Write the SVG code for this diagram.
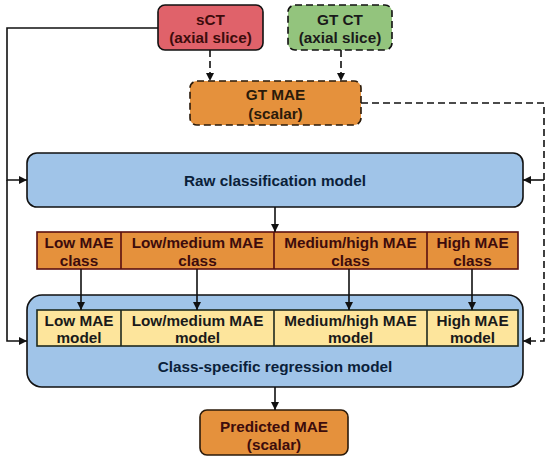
<svg xmlns="http://www.w3.org/2000/svg" width="550" height="462" viewBox="0 0 550 462">
<defs>
<marker id="ah" viewBox="0 0 10 10" refX="10" refY="5" markerWidth="8" markerHeight="9" markerUnits="userSpaceOnUse" orient="auto"><path d="M0,0 L10,5 L0,10 Z" fill="#111"/></marker>
</defs>
<style>
text{font-family:"Liberation Sans",Arial,sans-serif;font-weight:bold;font-size:15.3px;text-anchor:middle}
.ln{fill:none;stroke:#111;stroke-width:1.6}
.dl{fill:none;stroke:#111;stroke-width:1.6;stroke-dasharray:7,4}
.or{fill:#e5913c;stroke:#2a1a0a;stroke-width:1.6}
.bl{fill:#a0c4e8;stroke:#111;stroke-width:1.6}
.tr{fill:#3d0c0c}
.tb{fill:#0b1f3a}
.tk{fill:#1a1a1a}
</style>
<g id="sct">
<rect x="158" y="5" width="105" height="45" rx="7" fill="#e0626a" stroke="#111" stroke-width="1.6"/>
<text x="210.5" y="24.5" class="tr">sCT</text>
<text x="210.5" y="42.5" class="tr">(axial slice)</text>
</g>
<g id="gtct">
<rect x="288" y="5" width="104" height="45" rx="7" fill="#93c47d" stroke="#111" stroke-width="1.6" stroke-dasharray="7,4"/>
<text x="340" y="24.5" class="tk">GT CT</text>
<text x="340" y="42.5" class="tk">(axial slice)</text>
</g>
<g id="gtmae">
<rect x="190" y="81" width="171" height="44" rx="7" class="or" stroke="#111" stroke-dasharray="7,4"/>
<text x="275.5" y="100" fill="#2a1a0a">GT MAE</text>
<text x="275.5" y="118.5" fill="#2a1a0a">(scalar)</text>
</g>
<g id="raw">
<rect x="27" y="153" width="496" height="54" rx="10" class="bl"/>
<text x="275" y="185.5" class="tb">Raw classification model</text>
</g>
<g id="classes">
<rect x="37" y="232" width="481" height="37" fill="#e5913c" stroke="#5a1010" stroke-width="1.6"/>
<path d="M121,232 V269 M274,232 V269 M427,232 V269" stroke="#5a1010" stroke-width="1.6"/>
<text x="79" y="248" class="tr">Low MAE</text>
<text x="79" y="266" class="tr">class</text>
<text x="197.5" y="248" class="tr">Low/medium MAE</text>
<text x="197.5" y="266" class="tr">class</text>
<text x="350.5" y="248" class="tr">Medium/high MAE</text>
<text x="350.5" y="266" class="tr">class</text>
<text x="472.5" y="248" class="tr">High MAE</text>
<text x="472.5" y="266" class="tr">class</text>
</g>
<g id="regression">
<rect x="27" y="295" width="496" height="92" rx="15" class="bl"/>
<rect x="37" y="310" width="481" height="36" fill="#fde59c" stroke="#1f2a1f" stroke-width="1.6"/>
<path d="M121,310 V346 M274,310 V346 M427,310 V346" stroke="#1f2a1f" stroke-width="1.6"/>
<text x="79" y="325.5" class="tk">Low MAE</text>
<text x="79" y="343" class="tk">model</text>
<text x="197.5" y="325.5" class="tk">Low/medium MAE</text>
<text x="197.5" y="343" class="tk">model</text>
<text x="350.5" y="325.5" class="tk">Medium/high MAE</text>
<text x="350.5" y="343" class="tk">model</text>
<text x="472.5" y="325.5" class="tk">High MAE</text>
<text x="472.5" y="343" class="tk">model</text>
<text x="275" y="371.5" class="tb">Class-specific regression model</text>
</g>
<g id="predicted">
<rect x="200" y="410" width="148" height="45" rx="7" class="or"/>
<text x="274" y="432" class="tr">Predicted MAE</text>
<text x="274" y="450" class="tr">(scalar)</text>
</g>
<g id="connectors">
<path class="ln" d="M158,28 H7 V180 H27" marker-end="url(#ah)"/>
<path class="ln" d="M7,180 V341 H27" marker-end="url(#ah)"/>
<path class="dl" d="M210,50 V81" marker-end="url(#ah)"/>
<path class="dl" d="M341,50 V81" marker-end="url(#ah)"/>
<path class="dl" d="M361,103 H544 V341 H523" marker-end="url(#ah)"/>
<path class="ln" d="M544,180 H523" marker-end="url(#ah)"/>
<path class="ln" d="M275,207 V232" marker-end="url(#ah)"/>
<path class="ln" d="M81,269 V310" marker-end="url(#ah)"/>
<path class="ln" d="M197,269 V310" marker-end="url(#ah)"/>
<path class="ln" d="M349,269 V310" marker-end="url(#ah)"/>
<path class="ln" d="M472,269 V310" marker-end="url(#ah)"/>
<path class="ln" d="M275,387 V410" marker-end="url(#ah)"/>
</g>
</svg>
